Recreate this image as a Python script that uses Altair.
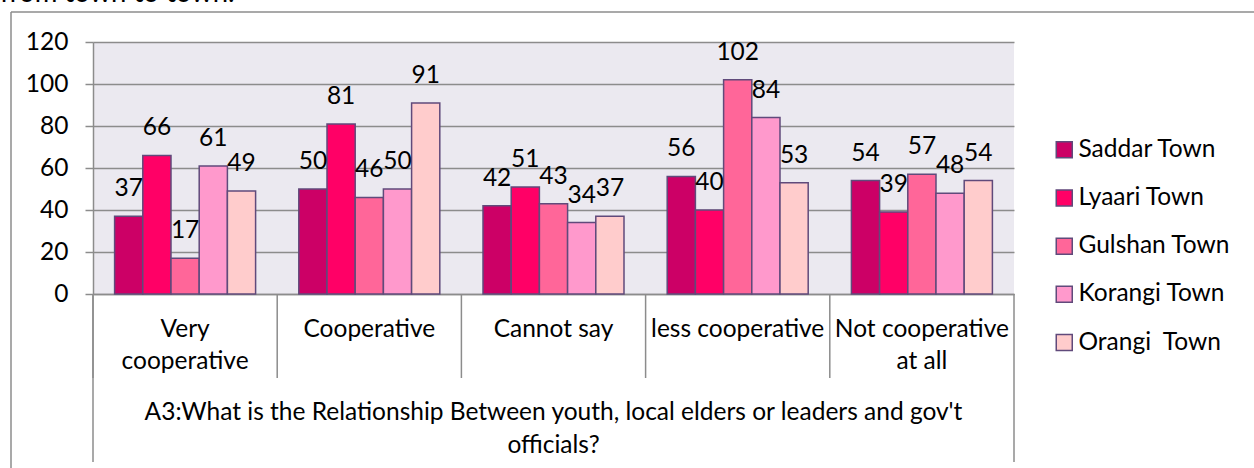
import altair as alt
import pandas as pd

categories = ["Very|cooperative", "Cooperative", "Cannot say", "less cooperative", "Not cooperative|at all"]
towns = ["Saddar Town", "Lyaari Town", "Gulshan Town", "Korangi Town", "Orangi\u00a0 Town"]
saddar = [37, 50, 42, 56, 54]
lyaari = [66, 81, 51, 40, 39]
gulshan = [17, 46, 43, 102, 57]
korangi = [61, 50, 34, 84, 48]
orangi = [49, 91, 37, 53, 54]
colors = ["#CC0066", "#FF0066", "#FF6699", "#FF99CC", "#FFCCCC"]
y_ticks = [0, 20, 40, 60, 80, 100, 120]
axis_title = ["A3:What is the Relationship Between youth, local elders or leaders and gov't", "officials?"]
top_text = "from town to town."

series = [saddar, lyaari, gulshan, korangi, orangi]
rows = []
for t, vals in zip(towns, series):
    for c, v in zip(categories, vals):
        rows.append({"cat": c, "town": t, "value": v})
df = pd.DataFrame(rows)

FONT = "Lato"
FS = 24.5
GREY = "#8C8C8C"
W, H = 921, 252

x_enc = alt.X(
    "cat:N", sort=categories,
    scale=alt.Scale(paddingInner=0, paddingOuter=0),
    axis=alt.Axis(
        ticks=False, domainColor=GREY, domainWidth=1.5,
        labelExpr="split(datum.label, '|')", labelAngle=0, labelFont=FONT,
        labelFontSize=FS, labelColor="black", labelPadding=23, labelLineHeight=32,
        labelBaseline="top", labelLimit=0,
        title=axis_title, titleFont=FONT, titleFontSize=FS, titleFontWeight="normal",
        titleColor="black", titleX=460, titleY=106, titleBaseline="top",
        titleAlign="center", titleLineHeight=33,
    ),
)
xoff = alt.XOffset("town:N", sort=towns, scale=alt.Scale(paddingOuter=0.766, paddingInner=0))
y_enc = alt.Y(
    "value:Q", scale=alt.Scale(domain=[0, 120], nice=False),
    axis=alt.Axis(
        values=y_ticks, grid=True, gridColor=GREY, gridWidth=1.5,
        domainColor=GREY, domainWidth=1.5, tickColor=GREY, tickWidth=1.5, tickSize=8,
        labelPadding=17, labelFont=FONT, labelFontSize=FS, labelColor="black", title=None,
    ),
)

base = alt.Chart(df)
bars = base.mark_bar(stroke="#604A7B", strokeWidth=1.5).encode(
    x=x_enc, xOffset=xoff, y=y_enc,
    fill=alt.Fill(
        "town:N", sort=towns, scale=alt.Scale(domain=towns, range=colors),
        legend=alt.Legend(
            orient="none", legendX=959, legendY=95.5, title=None, symbolType="square",
            symbolSize=256, symbolStrokeColor="#604A7B", symbolStrokeWidth=1.5,
            symbolOpacity=1, labelFont=FONT, labelFontSize=FS, labelColor="black",
            rowPadding=23.2, labelOffset=2, padding=0, labelLimit=0,
        ),
    ),
)
labels = base.mark_text(dy=-27, baseline="middle", font=FONT, fontSize=FS, color="black").encode(
    x=alt.X("cat:N", sort=categories), xOffset=alt.XOffset("town:N", sort=towns), y="value:Q", text="value:Q"
)

sep = alt.Chart(pd.DataFrame({"cat": categories})).mark_rule(color=GREY, strokeWidth=1.5).encode(
    x=alt.X("cat:N", sort=categories, bandPosition=0), y=alt.value(H), y2=alt.value(H + 84)
)
one = pd.DataFrame({"a": [0]})
left_line = alt.Chart(one).mark_rule(color=GREY, strokeWidth=1.5).encode(
    x=alt.value(0), y=alt.value(H), y2=alt.value(H + 168))
right_line = alt.Chart(one).mark_rule(color=GREY, strokeWidth=1.5).encode(
    x=alt.value(W), y=alt.value(H), y2=alt.value(H + 168))
frame_left = alt.Chart(one).mark_rule(color=GREY, strokeWidth=1.5).encode(
    x=alt.value(-82), y=alt.value(-30), y2=alt.value(H + 200))
frame_top = alt.Chart(one).mark_rule(color=GREY, strokeWidth=1.5).encode(
    x=alt.value(-82), x2=alt.value(W + 260), y=alt.value(-30))
top_txt = alt.Chart(pd.DataFrame({"t": [top_text]})).mark_text(
    align="left", baseline="alphabetic", font=FONT, fontSize=27.5, color="black"
).encode(x=alt.value(-93), y=alt.value(-40), text="t:N")

chart = alt.layer(bars, labels, sep, left_line, right_line, frame_left, frame_top, top_txt).properties(
    width=W, height=H,
    autosize=alt.AutoSizeParams(type="none"),
    padding={"left": 93, "top": 42, "right": 240, "bottom": 174},
    background="white",
).configure_view(stroke=None, fill="#EBE9F0")

chart.save("out.html", embed_options={"renderer": "svg", "actions": False})
